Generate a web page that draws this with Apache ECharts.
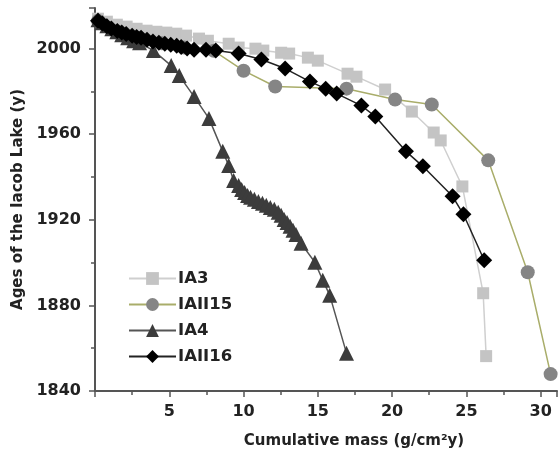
<!DOCTYPE html>
<html>
<head>
<meta charset="utf-8">
<script src="https://cdn.jsdelivr.net/npm/echarts@6/dist/echarts.min.js"></script>
<style>html,body{margin:0;padding:0;background:#fff;}#c{width:560px;height:463px;}</style>
</head>
<body>
<div id="c"></div>
<script>
var seriesNames = ['IA3', 'IAII15', 'IA4', 'IAII16'];
var xTickValues = [5, 10, 15, 20, 25, 30];
var yTickValues = [1840, 1880, 1920, 1960, 2000];

var IA3 = [[0.2,2014.0],[0.8,2012.6],[1.47,2011.2],[2.13,2010.3],[2.8,2009.3],[3.47,2008.4],[4.13,2007.9],[4.8,2007.5],[5.47,2007.0],[6.13,2006.1],[7.0,2004.7],[7.6,2003.7],[9.0,2002.3],[9.67,2000.5],[10.8,2000.0],[11.33,1999.1],[12.53,1998.1],[13.07,1997.7],[14.33,1995.8],[15.0,1994.4],[17.0,1988.3],[17.6,1986.9],[19.53,1980.9],[21.33,1970.6],[22.8,1960.8],[23.27,1957.1],[24.73,1935.6],[26.13,1885.7],[26.33,1856.3]];
var IAII15 = [[0.2,2013.0],[1.5,2008.0],[3.0,2005.0],[4.5,2002.5],[6.0,2000.5],[8.0,1999.0],[10.0,1989.7],[12.13,1982.3],[16.93,1981.3],[20.2,1976.2],[22.67,1973.9],[26.47,1947.8],[29.13,1895.5],[30.67,1847.9]];
var IA4 = [[0.2,2013.5],[0.47,2012.1],[0.8,2010.7],[1.13,2009.3],[1.47,2007.9],[1.8,2006.5],[2.2,2005.1],[2.6,2003.7],[3.0,2002.8],[3.93,1999.1],[5.13,1992.1],[5.67,1987.4],[6.67,1977.6],[7.67,1967.4],[8.6,1952.0],[9.0,1945.4],[9.33,1938.4],[9.67,1936.1],[9.87,1934.2],[10.07,1932.8],[10.27,1931.4],[10.47,1930.5],[10.73,1929.6],[11.0,1928.6],[11.27,1927.7],[11.53,1926.8],[11.8,1925.8],[12.07,1924.9],[12.33,1923.5],[12.53,1922.1],[12.73,1920.2],[12.93,1918.8],[13.13,1917.0],[13.33,1915.1],[13.53,1913.2],[13.87,1909.0],[14.8,1900.2],[15.33,1891.8],[15.8,1884.8],[16.93,1857.7]];
var IAII16 = [[0.2,2013.0],[0.5,2011.8],[0.8,2010.5],[1.1,2009.4],[1.5,2008.3],[1.8,2007.5],[2.1,2006.8],[2.5,2006.0],[2.8,2005.5],[3.1,2005.1],[3.5,2004.2],[3.9,2003.3],[4.3,2002.8],[4.7,2002.3],[5.1,2001.8],[5.5,2001.4],[5.8,2000.8],[6.2,2000.1],[6.67,1999.5],[7.47,1999.5],[8.13,1999.1],[9.67,1997.7],[11.2,1994.9],[12.8,1990.7],[14.47,1984.6],[15.53,1981.3],[16.27,1979.0],[17.93,1973.4],[18.87,1968.3],[20.93,1952.0],[22.07,1945.0],[24.07,1931.0],[24.8,1922.6],[26.2,1901.1]];

var FONT = 'DejaVu Sans';
var chart = echarts.init(document.getElementById('c'), null, {renderer: 'canvas'});
function mk(name, data, symbol, size, mcolor, lcolor, lwidth) {
  return {
    name: name, type: 'line', data: data, symbol: symbol, symbolSize: size,
    showAllSymbol: true, animation: false,
    itemStyle: {color: mcolor},
    lineStyle: {color: lcolor, width: lwidth}
  };
}
chart.setOption({
  backgroundColor: '#fff',
  animation: false,
  grid: {left: 95, right: 2, top: 8, bottom: 72, containLabel: false},
  legend: {
    orient: 'vertical', left: 123, top: 265, itemGap: 9,
    itemWidth: 47, itemHeight: 16,
    data: seriesNames,
    textStyle: {fontFamily: FONT, fontWeight: 'bold', fontSize: 16.5, color: '#222', padding: [0,0,0,-3]}
  },
  xAxis: {
    type: 'value', min: 0, max: 31.1, interval: 5,
    name: 'Cumulative mass (g/cm\u00B2y)', nameLocation: 'middle', nameGap: 43,
    nameTextStyle: {fontFamily: FONT, fontWeight: 'bold', fontSize: 15, color: '#222', padding: [0,0,0,56]},
    axisLine: {show: true, lineStyle: {color: '#555', width: 2}},
    axisTick: {show: true, length: 6, lineStyle: {color: '#555', width: 1.5}},
    minorTick: {show: true, splitNumber: 2, length: 4, lineStyle: {color: '#555', width: 1.5}},
    splitLine: {show: false},
    axisLabel: {
      margin: 13, fontFamily: FONT, fontWeight: 'bold', fontSize: 16, color: '#222',
      formatter: function (v) { return xTickValues.indexOf(v) >= 0 ? String(v) : ''; }
    }
  },
  yAxis: {
    type: 'value', min: 1840, max: 2019, interval: 40,
    name: 'Ages of the Iacob Lake (y)', nameLocation: 'middle', nameGap: 59,
    nameTextStyle: {fontFamily: FONT, fontWeight: 'bold', fontSize: 15, color: '#222'},
    axisLine: {show: true, lineStyle: {color: '#555', width: 2}},
    axisTick: {show: true, length: 6, lineStyle: {color: '#555', width: 1.5}},
    minorTick: {show: true, splitNumber: 2, length: 4, lineStyle: {color: '#555', width: 1.5}},
    splitLine: {show: false},
    axisLabel: {
      margin: 14, fontFamily: FONT, fontWeight: 'bold', fontSize: 16, color: '#222',
      formatter: function (v) { return yTickValues.indexOf(v) >= 0 ? String(v) : ''; }
    }
  },
  series: [
    mk('IA3', IA3, 'rect', 12, '#c4c4c4', '#cfcfcf', 1.5),
    mk('IAII15', IAII15, 'circle', 14, '#858585', '#a9ad6a', 1.5),
    mk('IA4', IA4, 'triangle', 15, '#3c3c3c', '#555555', 1.5),
    mk('IAII16', IAII16, 'diamond', 16, '#000000', '#222222', 1.5)
  ]
});
</script>
</body>
</html>
